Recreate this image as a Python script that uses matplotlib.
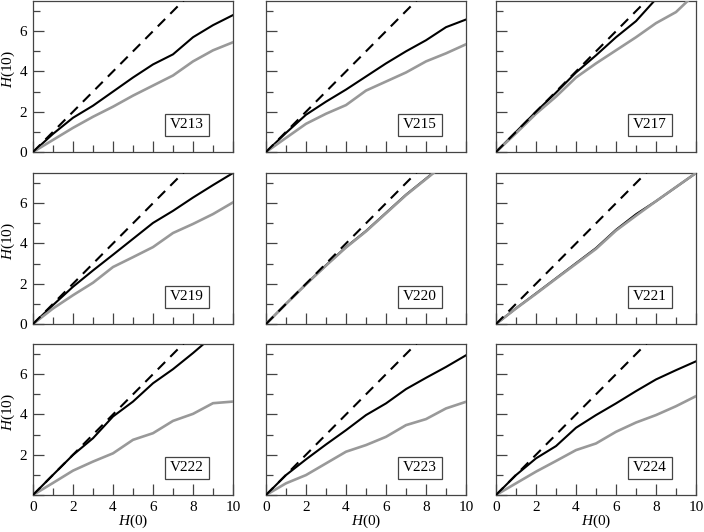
import matplotlib
matplotlib.use("Agg")
import matplotlib.pyplot as plt
import numpy as np

plt.rcParams['font.family'] = ['Liberation Serif', 'DejaVu Serif']
plt.rcParams['mathtext.fontset'] = 'custom'
plt.rcParams['mathtext.it'] = 'Liberation Serif:italic'
plt.rcParams['mathtext.rm'] = 'Liberation Serif'

x = [0, 1, 2, 3, 4, 5, 6, 7, 8, 9, 10]

names = ["V213", "V215", "V217", "V219", "V220", "V221", "V222", "V223", "V224"]

black = {
    "V213": [0, 0.9, 1.7, 2.3, 3.0, 3.7, 4.35, 4.85, 5.7, 6.3, 6.8],
    "V215": [0, 0.95, 1.85, 2.5, 3.1, 3.75, 4.4, 5.0, 5.55, 6.2, 6.58],
    "V217": [0, 1.0, 2.0, 2.95, 3.95, 4.8, 5.7, 6.5, 7.6, 8.5, 9.3],
    "V219": [0, 0.94, 1.85, 2.66, 3.44, 4.23, 5.02, 5.62, 6.28, 6.9, 7.5],
    "V220": [0, 1.0, 1.98, 2.92, 3.82, 4.62, 5.52, 6.42, 7.22, 8.02, 8.82],
    "V221": [0, 0.78, 1.52, 2.27, 3.02, 3.77, 4.68, 5.45, 6.1, 6.8, 7.5],
    "V222": [0, 1.0, 1.99, 2.82, 3.9, 4.64, 5.55, 6.25, 7.05, 7.9, 8.7],
    "V223": [0, 0.99, 1.77, 2.51, 3.22, 3.97, 4.55, 5.26, 5.82, 6.36, 6.94],
    "V224": [0, 0.99, 1.82, 2.43, 3.34, 3.97, 4.55, 5.16, 5.74, 6.2, 6.64],
}

gray = {
    "V213": [0, 0.6, 1.2, 1.75, 2.25, 2.8, 3.3, 3.8, 4.5, 5.05, 5.45],
    "V215": [0, 0.7, 1.4, 1.9, 2.33, 3.05, 3.5, 3.95, 4.5, 4.9, 5.35],
    "V217": [0, 0.93, 1.9, 2.75, 3.7, 4.4, 5.05, 5.7, 6.4, 6.95, 7.9],
    "V219": [0, 0.77, 1.43, 2.05, 2.83, 3.32, 3.82, 4.52, 4.97, 5.46, 6.04],
    "V220": [0, 1.0, 1.97, 2.9, 3.8, 4.6, 5.5, 6.4, 7.2, 8.0, 8.8],
    "V221": [0, 0.77, 1.5, 2.25, 2.99, 3.73, 4.64, 5.38, 6.1, 6.8, 7.5],
    "V222": [0, 0.6, 1.21, 1.66, 2.07, 2.74, 3.07, 3.68, 4.03, 4.56, 4.64],
    "V223": [0, 0.58, 0.99, 1.57, 2.15, 2.48, 2.89, 3.47, 3.77, 4.3, 4.63],
    "V224": [0, 0.58, 1.16, 1.69, 2.23, 2.56, 3.14, 3.6, 3.97, 4.41, 4.91],
}

xticks = [0, 2, 4, 6, 8, 10]
yticks = [0, 2, 4, 6]

fig = plt.figure(figsize=(7.04, 5.32), dpi=100)
W, H = 704.0, 532.0
lefts = [33, 266, 496]
bottoms = [152, 324, 495]
aw, ah = 200, 151

spine_c = '#444444'
fs = 11
for i, name in enumerate(names):
    r, c = divmod(i, 3)
    ax = fig.add_axes([lefts[c] / W, 1 - bottoms[r] / H, aw / W, ah / H])
    ax.plot(x, black[name], color='black', lw=1.5, zorder=2)
    ax.plot(x, gray[name], color='#999999', lw=1.9, zorder=3)
    ax.plot([0, 10], [0, 10], color='black', lw=1.5, ls=(0, (5, 3.5)), zorder=4)
    ax.set_xlim(0, 10)
    ax.set_ylim(0, 7.5)
    ax.set_xticks(xticks)
    ax.set_xticks([1, 3, 5, 7, 9], minor=True)
    ax.set_yticks(yticks)
    ax.set_yticks([1, 3, 5, 7], minor=True)
    ax.tick_params(which='both', direction='in', top=False, right=False,
                   color=spine_c, labelsize=fs, pad=4)
    ax.tick_params(which='major', length=8, width=0.9)
    ax.tick_params(which='minor', length=5, width=0.9)
    for s in ax.spines.values():
        s.set_color(spine_c)
        s.set_linewidth(0.9)
    if r != 2:
        ax.set_xticklabels([])
    else:
        ax.set_xticklabels([str(t) for t in xticks], fontfamily='Liberation Serif')
        ax.set_xlabel('$H$(0)', fontsize=fs, labelpad=-1)
    if c != 0:
        ax.set_yticklabels([])
    else:
        labs = [str(t) for t in yticks]
        if r == 2:
            labs[0] = ''
        ax.set_yticklabels(labs, fontfamily='Liberation Serif')
        ax.set_ylabel('$H$(10)', fontsize=fs, labelpad=0)
        ax.yaxis.set_label_coords(-0.08, 0.55)
    ax.text(0.77, 0.18, name, transform=ax.transAxes, fontsize=fs,
            ha='center', va='center', zorder=6,
            bbox=dict(boxstyle='square,pad=0.3', fc='white', ec=spine_c, lw=0.9))

fig.savefig('out.png', dpi=100)
